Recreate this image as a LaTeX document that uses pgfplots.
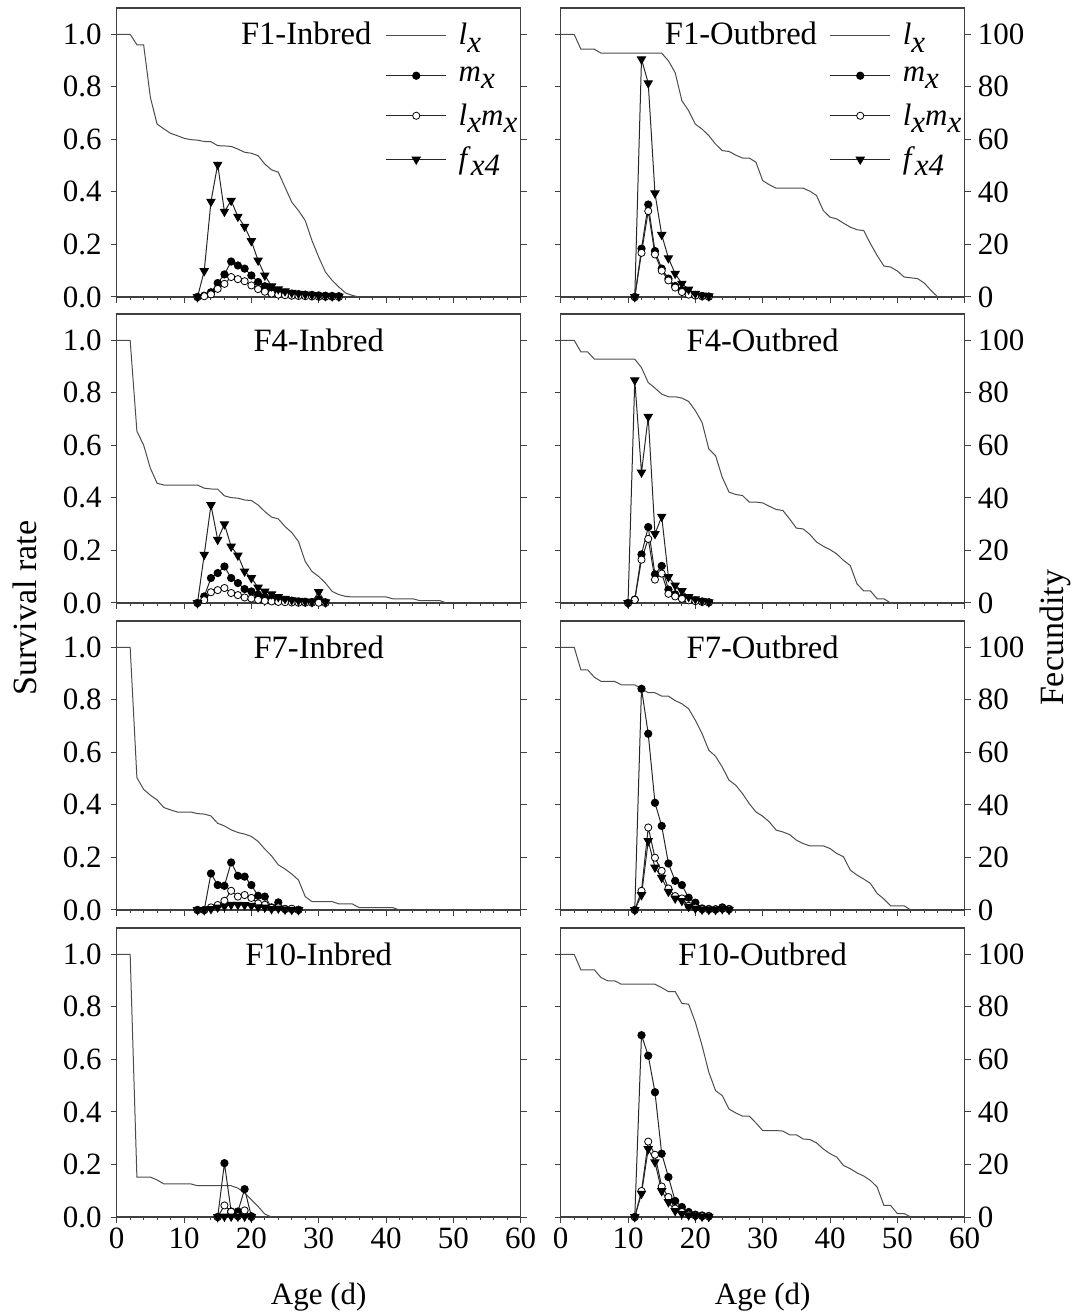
\documentclass[border=0pt]{standalone}
\usepackage{fontspec}
\setmainfont{Liberation Serif}
\usepackage{pgfplots}
\pgfplotsset{compat=1.18}

\newcommand\tfont{\fontsize{15.5}{17}\selectfont}
\newcommand\lfont{\fontsize{15.5}{18}\selectfont}
\newcommand\hfont{\fontsize{16.3}{18}\selectfont}
\newcommand\afont{\fontsize{17}{19}\selectfont}
\newcommand\sub[1]{\raisebox{-0.5ex}{\textit{#1}}}

\pgfplotsset{
  panel/.style={
    scale only axis, width=202pt, height=144.5pt,
    xmin=0, xmax=60, ymin=0, ymax=1.1, clip=false,
    xtick={0,10,20,30,40,50,60}, minor x tick num=4,
    ytick={0,0.2,0.4,0.6,0.8,1},
    tick align=outside, xtick pos=left, ytick pos=both,
    major tick length=3pt, minor tick length=1.6pt,
    axis line style={black!75, line width=0.6pt},
    every tick/.style={black!75, line width=0.5pt},
    tick label style={font=\tfont},
    /pgf/number format/assume math mode=true,
    xticklabel style={yshift=1pt},
    xlabel style={font=\lfont, at={(axis description cs:0.5,-0.277)}, anchor=center},
  },
  noxlab/.style={xticklabels={}},
  leftpanel/.style={panel, at={(58.35pt,#1)}, anchor=south west,
    yticklabel pos=left,
    yticklabel style={xshift=-1pt, /pgf/number format/.cd, fixed, fixed zerofill, precision=1}},
  rightpanel/.style={panel, at={(280.35pt,#1)}, anchor=south west,
    yticklabel pos=right, yticklabels={0,20,40,60,80,100}},
  lxline/.style={black!70, line width=0.5pt, no markers},
  mxline/.style={black!85, line width=0.5pt, mark=*, mark size=1.8pt,
    mark options={fill=black, draw=black}},
  lxmxline/.style={black!85, line width=0.5pt, mark=*, mark size=1.8pt,
    mark options={fill=white, draw=black, line width=0.4pt}},
  fxline/.style={black!85, line width=0.5pt, mark=triangle*, mark size=2.3pt,
    mark options={rotate=180, fill=black, draw=black}},
  legend image code/.code={\draw[mark repeat=2, mark phase=2, #1]
    plot coordinates {(0pt,0pt) (15pt,0pt) (30pt,0pt)};},
  f1legend/.style={legend style={draw=none, fill=none, at={(0.665,0.955)},
    anchor=north west, font=\lfont, row sep=7.5pt, column sep=5pt, inner sep=0pt,
    nodes={inner sep=1pt}}, legend cell align=left},
}

\begin{document}
\begin{tikzpicture}
\path[use as bounding box] (0,0) rectangle (540pt,657pt);

% ---------------- row 1 : F1 ----------------
\begin{axis}[leftpanel=508.5pt, noxlab, f1legend]
\addplot[lxline] coordinates {(0,1) (1,1) (2,1) (3,0.96) (4,0.96) (5,0.76) (6,0.658) (7,0.64) (8,0.623) (9,0.614) (10,0.604) (11,0.599) (12,0.597) (13,0.592) (14,0.591) (15,0.576) (16,0.575) (17,0.573) (18,0.563) (19,0.551) (20,0.547) (21,0.538) (22,0.506) (23,0.484) (24,0.475) (25,0.418) (26,0.361) (27,0.329) (28,0.291) (29,0.215) (30,0.152) (31,0.095) (32,0.063) (33,0.038) (34,0.015) (35,0.006) (36,0)};
\addlegendentry{\textit{l}\sub{x}}
\addplot[mxline] coordinates {(12,0) (13,0.005) (14,0.018) (15,0.053) (16,0.086) (17,0.135) (18,0.120) (19,0.108) (20,0.082) (21,0.057) (22,0.041) (23,0.028) (24,0.019) (25,0.016) (26,0.013) (27,0.011) (28,0.009) (29,0.008) (30,0.006) (31,0.005) (32,0.004) (33,0.003)};
\addlegendentry{\textit{m}\sub{x}}
\addplot[lxmxline] coordinates {(12,0) (13,0.003) (14,0.010) (15,0.031) (16,0.050) (17,0.076) (18,0.068) (19,0.060) (20,0.044) (21,0.030) (22,0.020) (23,0.013) (24,0.009) (25,0.007) (26,0.005) (27,0.004) (28,0.003) (29,0.002) (30,0.001) (31,0.001) (32,0.001) (33,0)};
\addlegendentry{\textit{l}\sub{x}\textit{m}\sub{x}}
\addplot[fxline] coordinates {(12,0) (13,0.099) (14,0.363) (15,0.504) (16,0.325) (17,0.367) (18,0.306) (19,0.268) (20,0.213) (21,0.139) (22,0.082) (23,0.041) (24,0.030) (25,0.022) (26,0.016) (27,0.013) (28,0.010) (29,0.008) (30,0.005) (31,0.004) (32,0.003) (33,0.002)};
\addlegendentry{\textit{f}\sub{x4}}
\node[anchor=east, font=\hfont] at (rel axis cs:0.648,0.913) {F1-Inbred};
\end{axis}

\begin{axis}[rightpanel=508.5pt, noxlab, f1legend]
\addplot[lxline] coordinates {(0,1) (1,1) (2,1) (3,0.943) (4,0.943) (5,0.943) (6,0.928) (7,0.928) (8,0.928) (9,0.928) (10,0.928) (11,0.928) (12,0.928) (13,0.928) (14,0.928) (15,0.928) (16,0.899) (17,0.854) (18,0.747) (19,0.709) (20,0.658) (21,0.639) (22,0.614) (23,0.582) (24,0.557) (25,0.554) (26,0.540) (27,0.529) (28,0.529) (29,0.513) (30,0.443) (31,0.427) (32,0.414) (33,0.414) (34,0.414) (35,0.414) (36,0.414) (37,0.403) (38,0.386) (39,0.329) (40,0.304) (41,0.297) (42,0.281) (43,0.266) (44,0.256) (45,0.253) (46,0.203) (47,0.158) (48,0.118) (49,0.114) (50,0.099) (51,0.076) (52,0.073) (53,0.070) (54,0.053) (55,0.025) (56,0)};
\addlegendentry{\textit{l}\sub{x}}
\addplot[mxline] coordinates {(11,0) (12,0.184) (13,0.352) (14,0.175) (15,0.108) (16,0.070) (17,0.042) (18,0.025) (19,0.013) (20,0.008) (21,0.004) (22,0.002)};
\addlegendentry{\textit{m}\sub{x}}
\addplot[lxmxline] coordinates {(11,0) (12,0.168) (13,0.327) (14,0.162) (15,0.100) (16,0.063) (17,0.036) (18,0.019) (19,0.009) (20,0.005) (21,0.003) (22,0.001)};
\addlegendentry{\textit{l}\sub{x}\textit{m}\sub{x}}
\addplot[fxline] coordinates {(11,0) (12,0.905) (13,0.814) (14,0.395) (15,0.237) (16,0.148) (17,0.089) (18,0.051) (19,0.029) (20,0.013) (21,0.006) (22,0.003)};
\addlegendentry{\textit{f}\sub{x4}}
\node[anchor=east, font=\hfont] at (rel axis cs:0.652,0.913) {F1-Outbred};
\end{axis}

% ---------------- row 2 : F4 ----------------
\begin{axis}[leftpanel=355.5pt, noxlab]
\addplot[lxline] coordinates {(0,1) (1,1) (2,1) (3,0.654) (4,0.601) (5,0.513) (6,0.456) (7,0.449) (8,0.449) (9,0.449) (10,0.449) (11,0.449) (12,0.449) (13,0.437) (14,0.434) (15,0.433) (16,0.408) (17,0.401) (18,0.399) (19,0.392) (20,0.390) (21,0.373) (22,0.348) (23,0.327) (24,0.320) (25,0.291) (26,0.268) (27,0.234) (28,0.158) (29,0.120) (30,0.101) (31,0.076) (32,0.044) (33,0.032) (34,0.025) (35,0.023) (36,0.023) (37,0.023) (38,0.023) (39,0.023) (40,0.023) (41,0.016) (42,0.016) (43,0.016) (44,0.016) (45,0.009) (46,0.009) (47,0.009) (48,0.009) (49,0)};
\addplot[mxline] coordinates {(12,0) (13,0.025) (14,0.095) (15,0.114) (16,0.139) (17,0.095) (18,0.076) (19,0.053) (20,0.044) (21,0.032) (22,0.023) (23,0.018) (24,0.014) (25,0.011) (26,0.009) (27,0.006) (28,0.005) (29,0.004) (30,0.013) (31,0.003)};
\addplot[lxmxline] coordinates {(12,0) (13,0.011) (14,0.041) (15,0.049) (16,0.057) (17,0.038) (18,0.030) (19,0.021) (20,0.017) (21,0.012) (22,0.008) (23,0.006) (24,0.004) (25,0.003) (26,0.002) (27,0.001) (28,0.001) (29,0.001) (30,0.001) (31,0)};
\addplot[fxline] coordinates {(12,0) (13,0.184) (14,0.373) (15,0.241) (16,0.300) (17,0.215) (18,0.181) (19,0.120) (20,0.095) (21,0.059) (22,0.044) (23,0.034) (24,0.023) (25,0.016) (26,0.011) (27,0.009) (28,0.006) (29,0.004) (30,0.042) (31,0.003)};
\node[font=\hfont] at (rel axis cs:0.5,0.91) {F4-Inbred};
\end{axis}

\begin{axis}[rightpanel=355.5pt, noxlab]
\addplot[lxline] coordinates {(0,1) (1,1) (2,1) (3,0.956) (4,0.956) (5,0.928) (6,0.928) (7,0.928) (8,0.928) (9,0.928) (10,0.928) (11,0.928) (12,0.896) (13,0.839) (14,0.818) (15,0.795) (16,0.785) (17,0.785) (18,0.780) (19,0.767) (20,0.732) (21,0.687) (22,0.586) (23,0.561) (24,0.478) (25,0.422) (26,0.413) (27,0.409) (28,0.384) (29,0.384) (30,0.381) (31,0.368) (32,0.356) (33,0.352) (34,0.320) (35,0.285) (36,0.282) (37,0.261) (38,0.232) (39,0.216) (40,0.203) (41,0.187) (42,0.162) (43,0.143) (44,0.073) (45,0.046) (46,0.046) (47,0.016) (48,0.016) (49,0)};
\addplot[mxline] coordinates {(10,0) (11,0.013) (12,0.185) (13,0.289) (14,0.109) (15,0.141) (16,0.051) (17,0.033) (18,0.020) (19,0.013) (20,0.010) (21,0.006) (22,0.003)};
\addplot[lxmxline] coordinates {(10,0) (11,0.012) (12,0.165) (13,0.244) (14,0.089) (15,0.112) (16,0.035) (17,0.025) (18,0.016) (19,0.010) (20,0.007) (21,0.004) (22,0.002)};
\addplot[fxline] coordinates {(10,0) (11,0.848) (12,0.497) (13,0.709) (14,0.263) (15,0.329) (16,0.099) (17,0.067) (18,0.046) (19,0.023) (20,0.015) (21,0.008) (22,0.003)};
\node[font=\hfont] at (rel axis cs:0.5,0.91) {F4-Outbred};
\end{axis}

% ---------------- row 3 : F7 ----------------
\begin{axis}[leftpanel=202pt, noxlab]
\addplot[lxline] coordinates {(0,1) (1,1) (2,1) (3,0.504) (4,0.459) (5,0.437) (6,0.419) (7,0.390) (8,0.381) (9,0.373) (10,0.373) (11,0.373) (12,0.367) (13,0.365) (14,0.358) (15,0.330) (16,0.320) (17,0.305) (18,0.295) (19,0.289) (20,0.280) (21,0.261) (22,0.232) (23,0.206) (24,0.172) (25,0.156) (26,0.137) (27,0.114) (28,0.051) (29,0.032) (30,0.032) (31,0.032) (32,0.032) (33,0.023) (34,0.023) (35,0.023) (36,0.009) (37,0.009) (38,0.009) (39,0.009) (40,0.009) (41,0.009) (42,0)};
\addplot[mxline] coordinates {(12,0) (13,0) (14,0.139) (15,0.095) (16,0.092) (17,0.181) (18,0.130) (19,0.127) (20,0.095) (21,0.054) (22,0.051) (23,0.010) (24,0.029) (25,0.004) (26,0.003) (27,0.001)};
\addplot[lxmxline] coordinates {(12,0) (13,0) (14,0.010) (15,0.019) (16,0.035) (17,0.073) (18,0.051) (19,0.057) (20,0.046) (21,0.025) (22,0.020) (23,0.008) (24,0.010) (25,0.003) (26,0.005) (27,0)};
\addplot[fxline] coordinates {(12,0) (13,0) (14,0.004) (15,0.010) (16,0.014) (17,0.020) (18,0.020) (19,0.019) (20,0.016) (21,0.011) (22,0.010) (23,0.004) (24,0.006) (25,0.002) (26,0.001) (27,0)};
\node[font=\hfont] at (rel axis cs:0.5,0.91) {F7-Inbred};
\end{axis}

\begin{axis}[rightpanel=202pt, noxlab]
\addplot[lxline] coordinates {(0,1) (1,1) (2,1) (3,0.914) (4,0.914) (5,0.886) (6,0.870) (7,0.870) (8,0.870) (9,0.857) (10,0.857) (11,0.857) (12,0.842) (13,0.827) (14,0.827) (15,0.814) (16,0.814) (17,0.797) (18,0.785) (19,0.766) (20,0.722) (21,0.671) (22,0.608) (23,0.585) (24,0.544) (25,0.494) (26,0.475) (27,0.443) (28,0.405) (29,0.373) (30,0.357) (31,0.335) (32,0.304) (33,0.297) (34,0.287) (35,0.266) (36,0.253) (37,0.244) (38,0.244) (39,0.244) (40,0.234) (41,0.215) (42,0.203) (43,0.152) (44,0.133) (45,0.118) (46,0.101) (47,0.063) (48,0.042) (49,0.016) (50,0.016) (51,0.016) (52,0)};
\addplot[mxline] coordinates {(11,0) (12,0.842) (13,0.671) (14,0.408) (15,0.320) (16,0.177) (17,0.111) (18,0.095) (19,0.047) (20,0.028) (21,0.006) (22,0.004) (23,0.003) (24,0.010) (25,0.004)};
\addplot[lxmxline] coordinates {(11,0) (12,0.073) (13,0.314) (14,0.199) (15,0.149) (16,0.082) (17,0.053) (18,0.044) (19,0.016) (20,0.009) (21,0.003) (22,0.002) (23,0.002) (24,0.005) (25,0.002)};
\addplot[fxline] coordinates {(11,0) (12,0.057) (13,0.263) (14,0.162) (15,0.123) (16,0.070) (17,0.044) (18,0.035) (19,0.013) (20,0.006) (21,0.002) (22,0.001) (23,0.001) (24,0.004) (25,0.001)};
\node[font=\hfont] at (rel axis cs:0.5,0.91) {F7-Outbred};
\end{axis}

% ---------------- row 4 : F10 ----------------
\begin{axis}[leftpanel=48.5pt, xlabel={Age (d)}]
\addplot[lxline] coordinates {(0,1) (1,1) (2,1) (3,0.152) (4,0.152) (5,0.152) (6,0.141) (7,0.126) (8,0.126) (9,0.126) (10,0.126) (11,0.126) (12,0.119) (13,0.119) (14,0.119) (15,0.119) (16,0.119) (17,0.119) (18,0.110) (19,0.091) (20,0.066) (21,0.040) (22,0.011) (23,0)};
\addplot[mxline] coordinates {(15,0) (16,0.205) (17,0.021) (18,0.021) (19,0.106) (20,0.003)};
\addplot[lxmxline] coordinates {(15,0) (16,0.044) (17,0.020) (18,0.003) (19,0.025) (20,0)};
\addplot[fxline] coordinates {(15,0) (16,0.002) (17,0.002) (18,0.002) (19,0.002) (20,0)};
\node[font=\hfont] at (rel axis cs:0.5,0.91) {F10-Inbred};
\end{axis}

\begin{axis}[rightpanel=48.5pt, xlabel={Age (d)}]
\addplot[lxline] coordinates {(0,1) (1,1) (2,1) (3,0.941) (4,0.941) (5,0.941) (6,0.911) (7,0.899) (8,0.899) (9,0.886) (10,0.886) (11,0.886) (12,0.886) (13,0.886) (14,0.886) (15,0.873) (16,0.858) (17,0.858) (18,0.813) (19,0.810) (20,0.741) (21,0.652) (22,0.551) (23,0.481) (24,0.462) (25,0.411) (26,0.396) (27,0.384) (28,0.384) (29,0.358) (30,0.329) (31,0.329) (32,0.329) (33,0.327) (34,0.313) (35,0.313) (36,0.297) (37,0.295) (38,0.282) (39,0.259) (40,0.241) (41,0.228) (42,0.196) (43,0.184) (44,0.168) (45,0.156) (46,0.139) (47,0.114) (48,0.044) (49,0.044) (50,0.013) (51,0.013) (52,0)};
\addplot[mxline] coordinates {(11,0) (12,0.692) (13,0.614) (14,0.475) (15,0.241) (16,0.152) (17,0.061) (18,0.038) (19,0.019) (20,0.009) (21,0.006) (22,0.004)};
\addplot[lxmxline] coordinates {(11,0) (12,0.099) (13,0.287) (14,0.237) (15,0.116) (16,0.076) (17,0.032) (18,0.019) (19,0.009) (20,0.005) (21,0.003) (22,0.002)};
\addplot[fxline] coordinates {(11,0) (12,0.089) (13,0.259) (14,0.209) (15,0.099) (16,0.057) (17,0.023) (18,0.013) (19,0.007) (20,0.004) (21,0.002) (22,0.001)};
\node[font=\hfont] at (rel axis cs:0.5,0.91) {F10-Outbred};
\end{axis}

\node[rotate=90, font=\afont] at (12.5pt,353pt) {Survival rate};
\node[rotate=90, font=\afont] at (527.5pt,338pt) {Fecundity};
\end{tikzpicture}
\end{document}
